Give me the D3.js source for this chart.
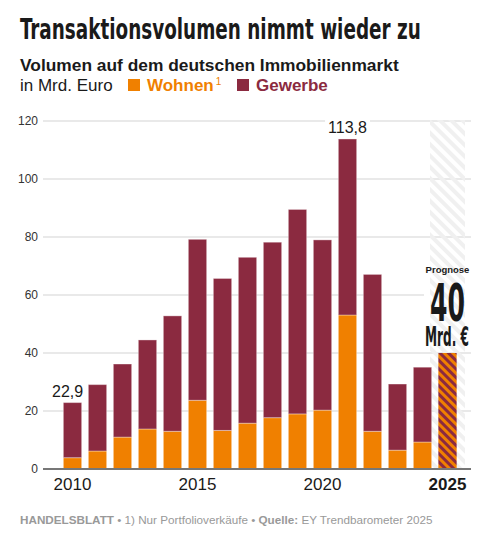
<!DOCTYPE html>
<html>
<head>
<meta charset="utf-8">
<script src="https://cdn.jsdelivr.net/npm/d3@7"></script>
<style>
  body { margin: 0; background: #fff; }
  text { font-family: "Liberation Sans", Arial, sans-serif; }
  .cond { font-family: "Liberation Sans Narrow", "DejaVu Sans Condensed", "Roboto", sans-serif; font-weight: bold; }
</style>
</head>
<body>
<script>
// data (Mrd. Euro)
var years = [2010, 2011, 2012, 2013, 2014, 2015, 2016, 2017, 2018, 2019, 2020, 2021, 2022, 2023, 2024];
var wohnen = [3.9, 6.2, 11.0, 13.8, 13.0, 23.7, 13.3, 15.8, 17.7, 19.0, 20.3, 53.1, 13.0, 6.5, 9.3];
var gewerbe = [19.0, 22.9, 25.2, 30.7, 39.8, 55.5, 52.4, 57.2, 60.5, 70.5, 58.7, 60.7, 54.1, 22.8, 25.8];
var forecastYear = 2025;
var forecastValue = 40;
var labelledYears = [2010, 2021];
var yTicks = [0, 20, 40, 60, 80, 100, 120];
var xTickYears = [2010, 2015, 2020, 2025];

const width = 501;
const height = 536;
const ORANGE = '#f08000';
const MAROON = '#8b2a40';

var allYears = years.concat([forecastYear]);
var rows = years.map(function(y, i) {
  return { year: y, wohnen: wohnen[i], gewerbe: gewerbe[i] };
});

var de = d3.formatLocale({ decimal: ',', thousands: '.', grouping: [3], currency: ['', ' €'] });
var fmt = de.format('.1f');

var svg = d3.select('body').append('svg')
  .attr('width', width)
  .attr('height', height);

var defs = svg.append('defs');

var bgHatch = defs.append('pattern')
  .attr('id', 'bg-hatch')
  .attr('patternUnits', 'userSpaceOnUse')
  .attr('width', 8).attr('height', 8)
  .attr('patternTransform', 'rotate(-45)');
bgHatch.append('rect').attr('width', 4).attr('height', 8).attr('fill', '#f0f0f0');

var barHatch = defs.append('pattern')
  .attr('id', 'bar-hatch')
  .attr('patternUnits', 'userSpaceOnUse')
  .attr('width', 6).attr('height', 6)
  .attr('patternTransform', 'rotate(-45)');
barHatch.append('rect').attr('width', 6).attr('height', 6).attr('fill', ORANGE);
barHatch.append('rect').attr('width', 3).attr('height', 6).attr('fill', MAROON);

var x = d3.scaleBand()
  .domain(allYears)
  .range([60, 460])
  .paddingInner(0.268)
  .paddingOuter(0.134);

var y = d3.scaleLinear()
  .domain([0, 120])
  .range([469, 121]);

// squeeze a text horizontally so it spans w pixels from (tx, ty)
function squeeze(sel, tx, ty, w) {
  var natural = sel.node().getComputedTextLength();
  sel.attr('x', 0).attr('y', 0)
    .attr('transform', 'translate(' + tx + ',' + ty + ') scale(' + (w / natural) + ',1)');
}

// header
var title = svg.append('text')
  .attr('class', 'cond')
  .style('font-size', '28px')
  .attr('fill', '#1a1a1a')
  .text('Transaktionsvolumen nimmt wieder zu');
squeeze(title, 20, 39, 401);

var sub = svg.append('text')
  .style('font-size', '17px').style('font-weight', 'bold')
  .attr('fill', '#1a1a1a')
  .text('Volumen auf dem deutschen Immobilienmarkt');
squeeze(sub, 20, 71, 379);

svg.append('text')
  .attr('x', 20).attr('y', 91)
  .style('font-size', '17px')
  .attr('fill', '#1a1a1a')
  .text('in Mrd. Euro');

var legend = svg.append('g');
legend.append('rect').attr('x', 128).attr('y', 79).attr('width', 12).attr('height', 12).attr('fill', ORANGE);
var wl = legend.append('text')
  .attr('x', 147).attr('y', 91)
  .style('font-size', '17px').style('font-weight', 'bold')
  .attr('fill', ORANGE);
wl.append('tspan').text('Wohnen');
wl.append('tspan').attr('dx', 2).attr('dy', -6).style('font-size', '10px').style('font-weight', 'normal').text('1');
legend.append('rect').attr('x', 237).attr('y', 79).attr('width', 12).attr('height', 12).attr('fill', MAROON);
legend.append('text')
  .attr('x', 256).attr('y', 91)
  .style('font-size', '17px').style('font-weight', 'bold')
  .attr('fill', MAROON)
  .text('Gewerbe');

// forecast column background
var fx = x(forecastYear) + x.bandwidth() / 2;
var colWidth = 35;

// grid
var grid = svg.append('g');
grid.selectAll('line')
  .data(yTicks.filter(function(d) { return d > 0; }))
  .enter().append('line')
  .attr('x1', 43).attr('x2', 471)
  .attr('y1', function(d) { return y(d); })
  .attr('y2', function(d) { return y(d); })
  .attr('stroke', '#e2e2e2')
  .attr('stroke-width', 1.5);

// white area behind forecast label
svg.append('rect')
  .attr('x', 424).attr('y', 262)
  .attr('width', 48).attr('height', 86)
  .attr('fill', '#fff');

svg.append('rect')
  .attr('x', fx - colWidth / 2).attr('y', y(120) - 1)
  .attr('width', colWidth).attr('height', y(0) - y(120) + 1)
  .attr('fill', 'url(#bg-hatch)');

svg.append('g')
  .attr('transform', 'translate(38,0)')
  .call(d3.axisLeft(y).tickValues(yTicks).tickSize(0).tickPadding(0))
  .call(function(g) {
    g.select('.domain').remove();
    g.selectAll('text')
      .attr('fill', '#333')
      .style('font-size', '12px')
      .style('font-family', '"Liberation Sans", Arial, sans-serif');
  });

// stacked bars
var stack = d3.stack().keys(['wohnen', 'gewerbe']);
var series = stack(rows);
var colors = { wohnen: ORANGE, gewerbe: MAROON };

svg.append('g').selectAll('g')
  .data(series)
  .enter().append('g')
  .attr('fill', function(d) { return colors[d.key]; })
  .selectAll('rect')
  .data(function(d) { return d; })
  .enter().append('rect')
  .attr('x', function(d) { return x(d.data.year); })
  .attr('y', function(d) { return y(d[1]); })
  .attr('width', x.bandwidth())
  .attr('height', function(d) { return y(d[0]) - y(d[1]); })
  .attr('stroke', '#fff')
  .attr('stroke-opacity', 0.35)
  .attr('stroke-width', 1);

// forecast bar
svg.append('rect')
  .attr('x', x(forecastYear))
  .attr('y', y(forecastValue))
  .attr('width', x.bandwidth())
  .attr('height', y(0) - y(forecastValue))
  .attr('fill', 'url(#bar-hatch)');

// value labels
labelledYears.forEach(function(yr) {
  var i = years.indexOf(yr);
  var total = wohnen[i] + gewerbe[i];
  var top = y(total);
  var cx = x(yr) + x.bandwidth() / 2;
  var g = svg.append('g');
  var bg = g.append('rect').attr('fill', '#fff');
  var t = g.append('text')
    .style('font-size', '16px')
    .attr('fill', '#1a1a1a')
    .attr('y', top - 6)
    .text(fmt(total));
  if (i === 0) {
    t.attr('x', x(yr) + x.bandwidth() + 1.5).attr('text-anchor', 'end');
  } else {
    t.attr('x', cx).attr('text-anchor', 'middle');
  }
  var b = t.node().getBBox();
  bg.attr('x', b.x - 3).attr('y', b.y).attr('width', b.width + 6).attr('height', b.height);
});

// forecast label
svg.append('text')
  .attr('x', fx).attr('y', 272.5)
  .attr('text-anchor', 'middle')
  .style('font-size', '9.5px').style('font-weight', 'bold')
  .attr('fill', '#1a1a1a')
  .text('Prognose');
var big = svg.append('text')
  .attr('class', 'cond')
  .style('font-size', '52px')
  .attr('fill', '#1a1a1a')
  .text(de.format('d')(forecastValue));
squeeze(big, fx - 17.5, 320.5, 35);
var unit = svg.append('text')
  .attr('class', 'cond')
  .style('font-size', '26px')
  .attr('fill', '#1a1a1a')
  .text('Mrd. €');
squeeze(unit, 425, 345.5, 44);

// x axis
svg.append('line')
  .attr('x1', 43).attr('x2', 471)
  .attr('y1', y(0)).attr('y2', y(0))
  .attr('stroke', '#777')
  .attr('stroke-width', 2);

svg.append('g').selectAll('text')
  .data(xTickYears)
  .enter().append('text')
  .attr('x', function(d) { return x(d) + x.bandwidth() / 2; })
  .attr('y', 490)
  .attr('text-anchor', 'middle')
  .style('font-size', '17px')
  .style('font-weight', function(d) { return d === forecastYear ? 'bold' : 'normal'; })
  .attr('fill', '#1a1a1a')
  .text(function(d) { return d; });

// footer
var foot = svg.append('text')
  .attr('x', 20).attr('y', 524)
  .style('font-size', '11.7px')
  .attr('fill', '#999');
foot.append('tspan').style('font-weight', 'bold').text('HANDELSBLATT');
foot.append('tspan').text(' • 1) Nur Portfolioverkäufe • ');
foot.append('tspan').style('font-weight', 'bold').text('Quelle:');
foot.append('tspan').text(' EY Trendbarometer 2025');
</script>
</body>
</html>
